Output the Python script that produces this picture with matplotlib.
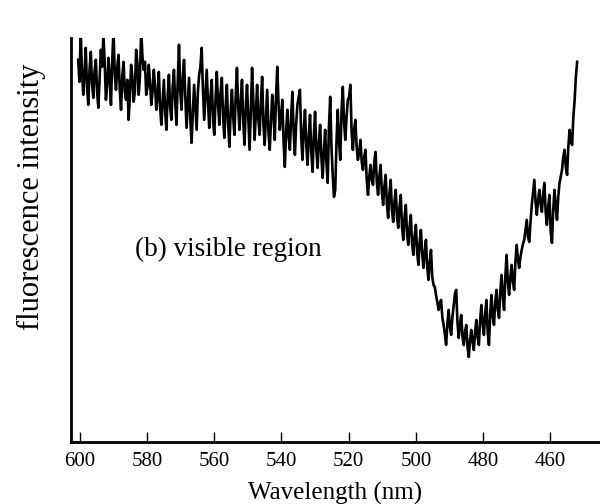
import numpy as np
import matplotlib.pyplot as plt

plt.rcParams['font.family'] = ['Liberation Serif', 'DejaVu Serif']

# wavelength range covered by the trace (nm)
first_nm = 600.5
last_nm = 452.0

intensity = [
    # 600 - 576 nm
    382, 360, 409, 372, 347, 368, 394, 355, 337, 372, 390, 358, 344, 370, 382, 350,
    334, 364, 392, 375, 407, 380, 342, 356, 384, 366, 337, 380, 412, 368, 352, 375,
    387, 352, 332, 366, 380, 350, 342, 362, 322, 345, 377, 365, 340, 350, 392, 378,
    347, 365, 412, 385, 372, 380, 347, 355, 377, 360, 337, 350, 372, 356, 332, 345,
    370,
    # 576 - 549 nm
    335, 317, 340, 362, 330, 312, 345, 367, 335, 322, 355, 372, 340, 317, 360, 397,
    350, 332, 365, 382, 345, 314, 338, 364, 322, 299, 330, 357, 335, 312, 350, 367,
    375, 394, 352, 322, 348, 372, 340, 314, 345, 362, 322, 307, 342, 370, 338, 317,
    350, 364, 325, 304, 335, 357, 318, 295, 330, 352, 325, 307, 345, 374, 336, 312,
    340, 362, 320, 297, 335, 357,
    # 549 - 524 nm
    325, 292, 330, 374, 340, 302, 328, 357, 322, 307, 340, 365, 318, 297, 325, 352,
    310, 292, 320, 347, 330, 302, 345, 375, 338, 312, 325, 342, 300, 275, 310, 332,
    305, 292, 325, 350, 310, 287, 318, 337, 345, 352, 305, 282, 312, 332, 298, 277,
    305, 327, 290, 270, 305, 330, 292, 274, 300, 317, 285, 264, 290, 312, 280, 259,
    315, 345, 295, 267,
    # 524 - 498 nm
    245, 252, 300, 332, 300, 282, 330, 355, 320, 302, 325, 342, 345, 357, 310, 292,
    312, 322, 295, 282, 290, 302, 280, 272, 285, 292, 262, 247, 265, 277, 262, 257,
    280, 290, 260, 247, 265, 277, 250, 237, 255, 267, 238, 224, 248, 262, 232, 220,
    240, 252, 225, 214, 235, 247, 215, 202, 225, 237, 208, 197, 215, 227, 198, 187,
    205, 217, 190, 177,
    # 498 - 473 nm
    200, 212, 188, 174, 190, 202, 175, 162, 180, 192, 165, 157, 155, 147, 140, 132,
    138, 142, 125, 117, 108, 97, 118, 132, 115, 107, 125, 137, 148, 152, 120, 104,
    118, 127, 105, 97, 110, 117, 95, 85, 102, 112, 100, 92, 110, 122, 105, 97,
    122, 137, 118, 107, 128, 142, 110, 97, 128, 147, 125, 117, 140, 152, 132, 124,
    150, 167, 145, 132,
    # 473 - 452 nm
    165, 187, 160, 147, 165, 177, 160, 152, 180, 197, 182, 174, 185, 192, 198, 202,
    212, 222, 205, 200, 220, 237, 250, 262, 240, 227, 242, 252, 238, 230, 248, 259,
    230, 217, 235, 247, 210, 199, 232, 252, 235, 222, 245, 259, 265, 272, 285, 292,
    275, 267, 295, 312, 300, 297, 325, 342, 365, 380,
]
wavelength = np.linspace(first_nm, last_nm, len(intensity))

fig = plt.figure(figsize=(6, 5.04), dpi=100)
ax = fig.add_axes([0.118, 0.123, 0.882, 0.802])

ax.plot(wavelength, intensity, color='black', lw=1.9)

ax.text(583.6, 192, '(b) visible region', fontsize=19.5, ha='left', va='center')

ax.set_xlim(602.7, 445.2)
ax.set_ylim(0, 404)
ax.set_xticks([600, 580, 560, 540, 520, 500, 480, 460])
ax.set_yticks([])
ax.tick_params(axis='x', direction='in', length=7, width=1, labelsize=15, pad=7)

for s in ['top', 'right']:
    ax.spines[s].set_visible(False)
ax.spines['left'].set_linewidth(2)
ax.spines['bottom'].set_linewidth(2)

ax.set_xlabel('Wavelength (nm)', fontsize=18, labelpad=8)
ax.set_ylabel('fluorescence intensity', fontsize=22)
ax.yaxis.set_label_coords(-0.046, 0.606)

fig.savefig('out.png', dpi=100)
